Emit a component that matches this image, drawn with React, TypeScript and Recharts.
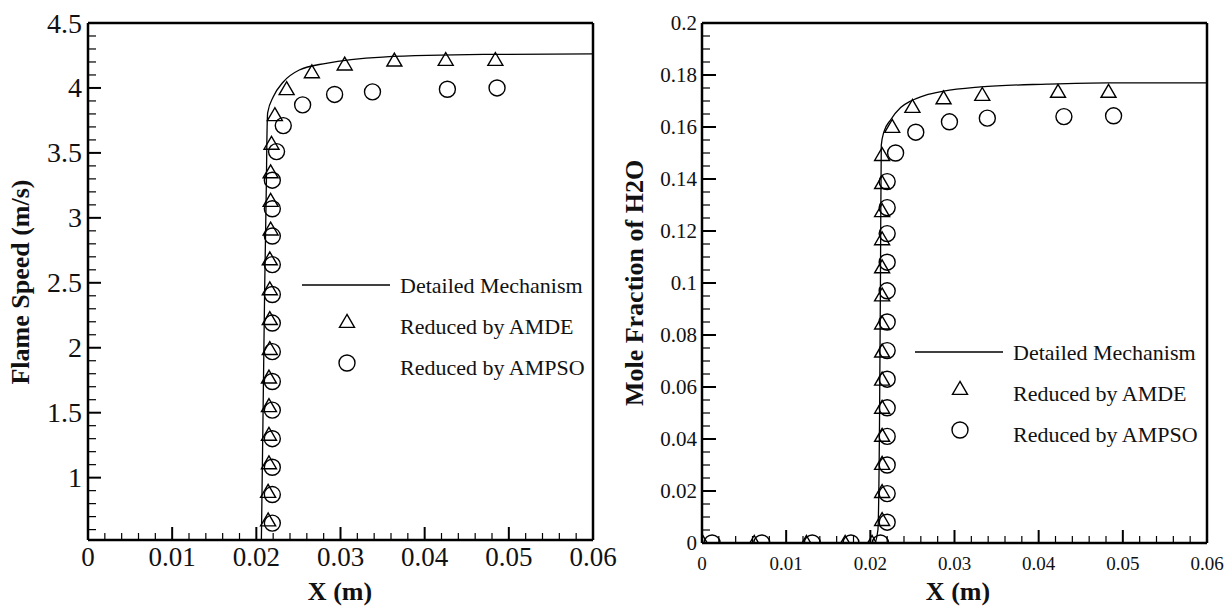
import React from "react"
import { ComposedChart, Line, Scatter, XAxis, YAxis, ReferenceLine, Legend } from "recharts"

// ---- Flame speed (left panel) ----
const speedLineX = [0.0206, 0.0208, 0.021, 0.0212, 0.02125, 0.02135, 0.022, 0.0232, 0.0251, 0.0283, 0.035, 0.047, 0.06]
const speedLineY = [0.52, 1.5, 2.5, 3.3, 3.58, 3.81, 3.93, 4.046, 4.138, 4.19, 4.238, 4.258, 4.262]

const speedAmdeX = [0.0214, 0.0214, 0.0215, 0.0215, 0.0215, 0.0215, 0.0216, 0.0216, 0.0216, 0.0216, 0.0217, 0.0217, 0.0217, 0.0218, 0.0222, 0.0236, 0.0266, 0.0305, 0.0364, 0.0425, 0.0484]
const speedAmdeY = [0.67, 0.89, 1.11, 1.33, 1.55, 1.77, 1.99, 2.22, 2.45, 2.68, 2.91, 3.13, 3.35, 3.57, 3.79, 3.99, 4.12, 4.18, 4.21, 4.215, 4.215]

const speedAmpsoX = [0.0219, 0.0219, 0.0219, 0.0219, 0.0219, 0.0219, 0.0219, 0.0219, 0.0219, 0.0219, 0.0219, 0.0219, 0.0219, 0.0224, 0.0232, 0.0255, 0.0293, 0.0338, 0.0427, 0.0486]
const speedAmpsoY = [0.65, 0.87, 1.08, 1.3, 1.52, 1.74, 1.97, 2.19, 2.41, 2.64, 2.86, 3.07, 3.29, 3.51, 3.71, 3.87, 3.95, 3.97, 3.99, 4.0]

// ---- H2O mole fraction (right panel) ----
const h2oLineX = [0, 0.0205, 0.0209, 0.0211, 0.0212, 0.0213, 0.0216, 0.0224, 0.0236, 0.0248, 0.0265, 0.0287, 0.0331, 0.041, 0.0482, 0.06]
const h2oLineY = [0, 0, 0.005, 0.05, 0.1, 0.153, 0.158, 0.1627, 0.1675, 0.17, 0.1722, 0.1738, 0.1754, 0.1765, 0.177, 0.177]

const h2oAmdeX = [0.0001, 0.0062, 0.0124, 0.017, 0.0202, 0.0214, 0.0214, 0.0214, 0.0214, 0.0214, 0.0214, 0.0214, 0.0214, 0.0214, 0.0214, 0.0214, 0.0214, 0.0214, 0.0214, 0.0226, 0.025, 0.0287, 0.0333, 0.0423, 0.0483]
const h2oAmdeY = [0, 0, 0, 0, 0, 0.0088, 0.0196, 0.0304, 0.0412, 0.052, 0.0628, 0.0736, 0.0844, 0.0952, 0.106, 0.1168, 0.1276, 0.1384, 0.1492, 0.16, 0.1677, 0.171, 0.1723, 0.1735, 0.1735]

const h2oAmpsoX = [0.0012, 0.0071, 0.0131, 0.0177, 0.0212, 0.022, 0.022, 0.022, 0.022, 0.022, 0.022, 0.022, 0.022, 0.022, 0.022, 0.022, 0.022, 0.022, 0.023, 0.0254, 0.0294, 0.0339, 0.043, 0.0489]
const h2oAmpsoY = [0, 0, 0, 0, 0, 0.008, 0.019, 0.03, 0.041, 0.052, 0.063, 0.074, 0.085, 0.097, 0.108, 0.119, 0.129, 0.139, 0.15, 0.158, 0.162, 0.1634, 0.164, 0.1643]

// tick labels
const xMajor = [0, 0.01, 0.02, 0.03, 0.04, 0.05, 0.06]
const speedMajor = [1, 1.5, 2, 2.5, 3, 3.5, 4, 4.5]
const h2oMajor = [0, 0.02, 0.04, 0.06, 0.08, 0.1, 0.12, 0.14, 0.16, 0.18, 0.2]

const legendNames = ["Detailed Mechanism", "Reduced by AMDE", "Reduced by AMPSO"]

const FONT = "'Times New Roman', 'Liberation Serif', serif"

const zip = (xs: number[], ys: number[]) => xs.map((x, i) => ({ x, y: ys[i] }))

const range = (a: number, b: number, step: number) => {
  const out: number[] = []
  for (let i = 0; a + i * step <= b + 1e-9; i++) out.push(Number((a + i * step).toFixed(4)))
  return out
}

const fmt = (v: number) => String(Number(v.toFixed(4)))
const isMajor = (majors: number[], v: number) => majors.some((m) => Math.abs(m - v) < 1e-9)

const Triangle = ({ cx, cy, s = 7.5 }: { cx: number; cy: number; s?: number }) => (
  <polygon
    points={`${cx},${cy - s} ${cx - s},${cy + s * 0.72} ${cx + s},${cy + s * 0.72}`}
    fill="none"
    stroke="#000"
    strokeWidth={1.4}
  />
)

const Circle = ({ cx, cy, r = 8 }: { cx: number; cy: number; r?: number }) => (
  <circle cx={cx} cy={cy} r={r} fill="none" stroke="#000" strokeWidth={1.4} />
)

function xTick(majors: number[], fontSize: number, dy: number, majorLen: number, minorLen: number) {
  return (props: any) => {
    const { x, y, payload } = props
    const major = isMajor(majors, payload.value)
    return (
      <g>
        <line x1={x} x2={x} y1={y} y2={y - (major ? majorLen : minorLen)} stroke="#000" strokeWidth={major ? 2 : 1.2} />
        {major && (
          <text x={x} y={y + dy} textAnchor="middle" fontSize={fontSize} fontFamily={FONT} fill="#111">
            {fmt(payload.value)}
          </text>
        )}
      </g>
    )
  }
}

function yTick(majors: number[], fontSize: number, gap: number, majorLen: number, minorLen: number) {
  return (props: any) => {
    const { x, y, payload } = props
    const major = isMajor(majors, payload.value)
    return (
      <g>
        <line x1={x} x2={x + (major ? majorLen : minorLen)} y1={y} y2={y} stroke="#000" strokeWidth={major ? 2 : 1.2} />
        {major && (
          <text x={x - gap} y={y} dy="0.34em" textAnchor="end" fontSize={fontSize} fontFamily={FONT} fill="#111">
            {fmt(payload.value)}
          </text>
        )}
      </g>
    )
  }
}

function LegendBox({ markerX, textX }: { markerX: number; textX: number }) {
  return (
    <svg width={330} height={125} style={{ display: "block" }}>
      <line x1={markerX - 45} x2={markerX + 43} y1={25} y2={25} stroke="#000" strokeWidth={1.3} />
      <Triangle cx={markerX} cy={62} />
      <Circle cx={markerX} cy={103} />
      {legendNames.map((name, i) => (
        <text key={name} x={textX} y={33 + i * 41} fontSize={22} fontFamily={FONT} fill="#111">
          {name}
        </text>
      ))}
    </svg>
  )
}

function FlameSpeedChart() {
  const yTicks = range(0.6, 4.5, 0.1)
  const xTicks = range(0, 0.06, 0.002)
  return (
    <ComposedChart width={630} height={607} margin={{ top: 23, right: 37, left: 0, bottom: 0 }}>
      <XAxis
        type="number"
        dataKey="x"
        domain={[0, 0.06]}
        allowDataOverflow
        ticks={xTicks}
        interval={0}
        height={67}
        tickSize={0}
        tickMargin={0}
        tickLine={false}
        axisLine={{ stroke: "#000", strokeWidth: 2.5 }}
        tick={xTick(xMajor, 27, 26, 13, 7)}
        label={() => (
          <text x={340} y={600} textAnchor="middle" fontSize={26} fontWeight="bold" fontFamily={FONT} fill="#111">
            X (m)
          </text>
        )}
      />
      <YAxis
        type="number"
        dataKey="y"
        domain={[0.52, 4.5]}
        allowDataOverflow
        ticks={yTicks}
        interval={0}
        width={88}
        tickSize={0}
        tickMargin={0}
        tickLine={false}
        axisLine={{ stroke: "#000", strokeWidth: 2.5 }}
        tick={yTick(speedMajor, 28, 6, 13, 8)}
        label={() => (
          <text x={29} y={282} transform="rotate(-90 29 282)" textAnchor="middle" fontSize={26} fontWeight="bold" fontFamily={FONT} fill="#111">
            Flame Speed (m/s)
          </text>
        )}
      />
      <ReferenceLine y={4.5} stroke="#000" strokeWidth={2.5} />
      <ReferenceLine x={0.06} stroke="#000" strokeWidth={2.5} />
      <Line data={zip(speedLineX, speedLineY)} dataKey="y" type="monotoneX" stroke="#000" strokeWidth={1.3} dot={false} isAnimationActive={false} />
      <Scatter data={zip(speedAmdeX, speedAmdeY)} dataKey="y" shape={(p: any) => <Triangle cx={p.cx} cy={p.cy} />} isAnimationActive={false} />
      <Scatter data={zip(speedAmpsoX, speedAmpsoY)} dataKey="y" shape={(p: any) => <Circle cx={p.cx} cy={p.cy} />} isAnimationActive={false} />
      <Legend
        layout="vertical"
        align="center"
        verticalAlign="middle"
        wrapperStyle={{ left: 290, top: 260, width: 330, height: 125 }}
        content={() => <LegendBox markerX={57} textX={110} />}
      />
    </ComposedChart>
  )
}

function H2OChart() {
  const yTicks = range(0, 0.2, 0.005)
  const xTicks = range(0, 0.06, 0.002)
  return (
    <ComposedChart width={618} height={607} margin={{ top: 23, right: 21, left: 0, bottom: 0 }}>
      <XAxis
        type="number"
        dataKey="x"
        domain={[0, 0.06]}
        allowDataOverflow
        ticks={xTicks}
        interval={0}
        height={64}
        tickSize={0}
        tickMargin={0}
        tickLine={false}
        axisLine={{ stroke: "#000", strokeWidth: 2.5 }}
        tick={xTick(xMajor, 19, 27, 13, 7)}
        label={() => (
          <text x={348} y={600} textAnchor="middle" fontSize={26} fontWeight="bold" fontFamily={FONT} fill="#111">
            X (m)
          </text>
        )}
      />
      <YAxis
        type="number"
        dataKey="y"
        domain={[0, 0.2]}
        allowDataOverflow
        ticks={yTicks}
        interval={0}
        width={92}
        tickSize={0}
        tickMargin={0}
        tickLine={false}
        axisLine={{ stroke: "#000", strokeWidth: 2.5 }}
        tick={yTick(h2oMajor, 21, 5, 14, 8)}
        label={() => (
          <text x={33} y={283} transform="rotate(-90 33 283)" textAnchor="middle" fontSize={26} fontWeight="bold" fontFamily={FONT} fill="#111">
            Mole Fraction of H2O
          </text>
        )}
      />
      <ReferenceLine y={0.2} stroke="#000" strokeWidth={2.5} />
      <ReferenceLine x={0.06} stroke="#000" strokeWidth={2.5} />
      <Line data={zip(h2oLineX, h2oLineY)} dataKey="y" type="monotoneX" stroke="#000" strokeWidth={1.3} dot={false} isAnimationActive={false} />
      <Scatter data={zip(h2oAmdeX, h2oAmdeY)} dataKey="y" shape={(p: any) => <Triangle cx={p.cx} cy={p.cy} />} isAnimationActive={false} />
      <Scatter data={zip(h2oAmpsoX, h2oAmpsoY)} dataKey="y" shape={(p: any) => <Circle cx={p.cx} cy={p.cy} />} isAnimationActive={false} />
      <Legend
        layout="vertical"
        align="center"
        verticalAlign="middle"
        wrapperStyle={{ left: 295, top: 327, width: 330, height: 125 }}
        content={() => <LegendBox markerX={55} textX={108} />}
      />
    </ComposedChart>
  )
}

export default function App() {
  return (
    <div style={{ position: "absolute", left: 0, top: 0, width: 1228, height: 607, background: "#fff", overflow: "hidden" }}>
      <div style={{ position: "absolute", left: 0, top: 0 }}>
        <FlameSpeedChart />
      </div>
      <div style={{ position: "absolute", left: 610, top: 0 }}>
        <H2OChart />
      </div>
    </div>
  )
}
